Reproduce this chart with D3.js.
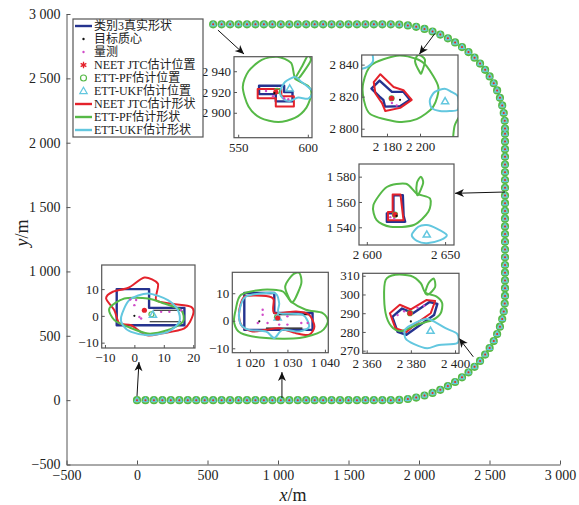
<!DOCTYPE html>
<html>
<head>
<meta charset="utf-8">
<script src="https://cdn.jsdelivr.net/npm/d3@7"></script>
<style>
  body { margin: 0; background: #fff; }
  svg text { font-family: "Liberation Serif", "Noto Sans CJK SC", serif; fill: #222; }
</style>
</head>
<body>
<div id="chart"></div>
<script>
// trajectory (every frame), main plot data in metres
const trackX = [0,60,120,180,240,300,360,420,480,540,600,660,720,780,840,900,960,1020,1080,1140,1200,1260,1320,1380,1440,1500,1560,1620,1680,1740,1800,
  1860,1921,1980,2039,2096,2151,2205,2256,2305,2351,2394,2433,2469,2501,2530,2554,2574,2590,2601,2608,2610,
  2610,2610,2610,2610,2610,2610,2610,2610,2610,2610,2610,2610,2610,2610,2610,2610,2610,2610,2610,2610,2610,
  2610,2608,2601,2590,2574,2554,2530,2501,2469,2433,2394,2351,2305,2256,2205,2151,2096,2039,1980,1921,1860,1800,
  1740,1680,1620,1560,1500,1440,1380,1320,1260,1200,1140,1080,1020,960,900,840,780,720,660,600,540];
const trackY = [0,0,0,0,0,0,0,0,0,0,0,0,0,0,0,0,0,0,0,0,0,0,0,0,0,0,0,0,0,0,0,
  2,9,20,36,56,80,109,141,177,216,259,305,354,405,459,514,571,630,689,750,810,
  870,930,990,1050,1110,1170,1230,1290,1350,1410,1470,1530,1590,1650,1710,1770,1830,1890,1950,2010,2070,
  2110,2170,2231,2290,2349,2406,2462,2515,2566,2615,2661,2704,2743,2779,2811,2840,2864,2884,2900,2911,2918,2920,
  2920,2920,2920,2920,2920,2920,2920,2920,2920,2920,2920,2920,2920,2920,2920,2920,2920,2920,2920,2920,2920];

const mainTicks = [-500,0,500,1000,1500,2000,2500,3000];

const legendLabels = ["类别3真实形状","目标质心","量测","NEET JTC估计位置","ETT-PF估计位置",
  "ETT-UKF估计位置","NEET JTC估计形状","ETT-PF估计形状","ETT-UKF估计形状"];

// arrows: [tailX, tailY, headX, headY] in main data coords
const arrows = [[574,2875,759,2689],[2113,2849,2002,2687],[2610,1617,2255,1607],
  [0,32,14,296],[1028,16,1028,218],[2385,337,2284,480]];

// ---- inset 1 (top, x~575) ----
const in1X = [547,603], in1Y = [2876,2954], in1XT = [550,600], in1YT = [2900,2920,2940];
const in1Blue = [[565,2926],[583,2926],[583,2920],[589,2920],[589,2911],[577,2911],[577,2918],[565,2918]];
const in1Red = [[564,2923],[581,2923],[581,2916],[590,2916],[590,2906],[577,2906],[577,2914],[564,2914]];
const in1Green = [[553.3,2924.8],[557.4,2940],[566.9,2951],[578,2954],[588,2948],[591,2933],[600,2926],[602.6,2918.5],[599,2905],[590.7,2895],[578.8,2891.2],[566,2895],[557.4,2906]];
const in1Stem = [[591,2933],[596,2945],[600,2955],[602,2950],[594,2934]];
const in1Cyan = [[580,2920],[583.6,2929.6],[590.7,2934.4],[595.5,2929.6],[600.2,2924.8],[603.8,2920],[600.2,2913.6],[593.1,2914.6],[587.1,2911.4],[582.4,2913.6]];
const in1Meas = [[570,2921],[575,2916],[583,2914],[586,2913]];
const in1Pts = {c:[576,2919], r:[577,2920], g:[578,2921], t:[587,2923]};

// ---- inset 2 (top right, x~2188) ----
const in2X = [2164.7,2223], in2Y = [2795,2846], in2XT = [2180,2200], in2YT = [2800,2820,2840];
const in2Blue = [[2170.6,2825],[2175.5,2830],[2183,2823],[2189.9,2823],[2193.9,2818],[2187.9,2814],[2178.8,2813.8],[2177.8,2818],[2175.5,2820]];
const in2Red = [[2172,2829],[2176,2834],[2184,2826],[2190,2824],[2195,2818],[2188,2813],[2179,2811],[2177,2816],[2173,2822]];
const in2Green = [[2165.6,2828.4],[2170.6,2839.8],[2185.9,2845.5],[2198,2843.5],[2204,2839],[2211.1,2826],[2208,2813.8],[2198,2806],[2185.9,2804.4],[2170,2809],[2166,2818]];
const in2Stem = [[2200,2835],[2197,2842],[2199,2846],[2203,2843],[2201,2835]];
const in2Cyan = [[2206,2818],[2209,2823],[2215,2825],[2219,2823],[2223,2820],[2223,2812],[2218,2811],[2212,2811],[2207,2813]];
const in2CyanEdge = [[2163,2837],[2168,2838.5],[2171.5,2842],[2171,2848]];
const in2GreenEdge = [[2224,2808],[2221,2802],[2220,2794]];
const in2Meas = [[2185.9,2814.5],[2183,2816]];
const in2Pts = {c:[2187.9,2818], r:[2182.8,2819], g:[2182.8,2819], t:[2215.2,2816.9]};

// ---- inset 3 (right, y~1560) ----
const in3X = [2595,2655.7], in3Y = [1526,1590], in3XT = [2600,2650], in3YT = [1540,1560,1580];
const in3Blue = [[2617,1565.3],[2623,1565.3],[2623.5,1549],[2624.5,1544.4],[2612.8,1544.4],[2612.8,1551],[2617,1551]];
const in3Red = [[2616.5,1566],[2621.5,1566],[2623,1550],[2623.5,1545.5],[2613.5,1545.5],[2613.5,1552],[2616.5,1552]];
const in3Green = [[2604.2,1557.5],[2612.8,1571.8],[2625,1574.4],[2631.9,1566.6],[2640.4,1562.7],[2639.3,1552.2],[2630,1541.8],[2615,1540.4],[2606.3,1545.7]];
const in3Stem = [[2631.9,1566.6],[2632,1575],[2634.5,1580],[2636,1575],[2633,1566]];
const in3Cyan = [[2628.7,1533.9],[2632.9,1540.4],[2638.3,1541.8],[2644.7,1539],[2651.1,1533.9],[2646.9,1529.9],[2638.3,1527.4],[2632,1529.2]];
const in3Meas = [[2615,1548],[2617.5,1547]];
const in3Pts = {c:[2619,1549], r:[2618,1550], g:[2618,1550], t:[2638.3,1533.9]};

// ---- inset 4 (start, x~0) ----
const in4X = [-11.1,20.6], in4Y = [-12,19], in4XT = [-10,0,10,20], in4YT = [-10,0,10];
const in4Blue = [[-6,10],[5,10],[5,3],[17,3],[17,-3.5],[-6,-3.5]];
const in4Red = [[-9.6,6.5],[-7.3,9],[-2,10.5],[3.4,14.3],[8,12],[7.4,5.9],[13,4.5],[19.3,3.4],[19.9,0.3],[17,-4.7],[9.1,-6.6],[4,-7.2],[-1.1,-3.5],[-5.1,-2.8],[-6.8,2.1]];
const in4Green = [[-8.5,2.8],[-3.4,6.5],[4.6,6.5],[10.2,4.6],[15.9,2.1],[16.5,-2.2],[11.4,-5.3],[4.6,-6.6],[-2.2,-4.1],[-6.8,-1.6]];
const in4Cyan = [[-4.5,-0.4],[-1.7,5.9],[4.6,8.4],[11.4,5.9],[14.8,2.1],[15.3,-2.2],[11.4,-6],[4.6,-7.2],[-1.1,-6],[-3.9,-3.5]];
const in4Black = [[[6.4,2.1],[15.9,2.1]],[[5.2,-2.2],[15.9,-2.2]]];
const in4Meas = [[-1.4,6.1],[0.6,5.9],[0,4],[1.7,-0.4],[9.1,1.5],[11.9,1.5],[15.9,2.1],[2.3,-1]];
const in4Pts = {c:[0,0], r:[3.4,2.1], g:[5.8,0.6], t:[6.3,0.3]};

// ---- inset 5 (x~1030) ----
const in5X = [1015.3,1040.9], in5Y = [-11.6,17.6], in5XT = [1020,1030,1040], in5YT = [-10,0,10];
const in5Blue = [[1018.5,10.1],[1026.5,10.1],[1026.5,2.8],[1036.7,2.8],[1036.7,-3.3],[1018.5,-3.3]];
const in5Red = [[1017.6,6.4],[1018.9,9.0],[1024.3,9.0],[1026.3,7.8],[1026.5,2.8],[1032.3,3.4],[1035.8,2.2],[1037.2,-2.1],[1035.8,-5.1],[1032.3,-4.5],[1027.8,-2.7],[1024.3,-3.3],[1020.7,-3.9],[1018.0,-2.1],[1017.1,1.6]];
const in5Green = [[1016.2,4.0],[1017.6,9.4],[1023.4,11.3],[1028.7,10.7],[1030.9,7.0],[1034.9,4.0],[1039.4,2.8],[1040.8,-0.2],[1039.0,-3.9],[1033.2,-6.3],[1024.3,-6.3],[1017.6,-4.5],[1015.8,-0.8]];
const in5Stem = [[1030.9,7.0],[1029.4,12.4],[1031.4,16.7],[1033.2,17.3],[1033.7,13.6],[1031.9,7.6]];
const in5Cyan = [[1017.1,2.8],[1018.9,8.8],[1026.5,10.1],[1027.8,6.4],[1027.8,2.8],[1034.0,2.2],[1035.8,-2.1],[1033.2,-3.9],[1028.7,-3.3],[1026.5,-6.3],[1024.3,-3.9],[1019.8,-3.3],[1017.6,-1.4]];
const in5Black = [[[1027.5,2.2],[1036,2.2]],[[1024.3,-2.7],[1034,-2.7]]];
const in5Meas = [[1023.4,4.0],[1023.4,2.2],[1024.7,-0.8],[1027.8,1.6],[1030.0,1.6],[1027.8,-1.4],[1030.0,-1.4],[1033.7,-0.8],[1035.4,-0.8],[1022.1,-0.8]];
const in5Pts = {c:[1022.5,-0.2], r:[1027.4,1.0], g:[1027.2,1.2], t:[1027.4,1.0]};

// ---- inset 6 (x~2380, y~290) ----
const in6X = [2358.2,2401.8], in6Y = [268.6,311.3], in6XT = [2360,2380,2400], in6YT = [270,280,290,300,310];
const in6Blue = [[2371.6,288],[2376,292.5],[2381,290],[2388.5,296],[2392,295],[2390.5,289],[2384.5,284],[2378,278.5],[2374,280]];
const in6Red = [[2370.5,290],[2375,294.5],[2380,292],[2387,297],[2391,296.5],[2389,290],[2383,285],[2378,280],[2373,282]];
const in6Green = [[2368.6,307.8],[2373,310.5],[2379.9,310],[2384.5,306],[2386.5,301],[2391.5,299],[2394.2,295.3],[2393.5,290],[2390,286.5],[2383,284],[2376,280.5],[2372,282],[2369,288],[2367.9,298]];
const in6Stem = [[2386.5,301],[2388,306],[2390.4,308.5],[2391,304],[2388,300]];
const in6Cyan = [[2377.3,281],[2379.9,283.5],[2387,287],[2390.4,285.6],[2395.7,282],[2401,279],[2401,274],[2392.7,273],[2387.4,271.3],[2381.5,273.5],[2377.6,276.5]];
const in6Meas = [[2374,289],[2377,291],[2383,293],[2386,294]];
const in6Pts = {c:[2380,285.6], r:[2379.6,290], g:[2379.6,290], t:[2388.9,280.4]};

const C = {blue: "#25338f", red: "#e4222b", green: "#56b947", cyan: "#63c7df", mag: "#d04cc8"};

const W = 579, H = 505;
const loc = d3.formatLocale({decimal: ".", thousands: " ", grouping: [3], currency: ["", ""], minus: "\u2212"});
const fmt = loc.format(",d");

const svg = d3.select("#chart").append("svg").attr("width", W).attr("height", H);

svg.append("defs").append("marker")
   .attr("id", "ah").attr("viewBox", "-10 -5 12 10")
   .attr("refX", 0).attr("refY", 0)
   .attr("markerWidth", 12).attr("markerHeight", 10)
   .attr("markerUnits", "userSpaceOnUse").attr("orient", "auto")
   .append("path").attr("d", "M0,0 L-9,-4 L-6.5,0 L-9,4 Z").attr("fill", "#111");

const xMain = d3.scaleLinear().domain([-500, 3000]).range([66.5, 560]);
const yMain = d3.scaleLinear().domain([-500, 3000]).range([464.5, 14]);

// axes
svg.append("g")
   .attr("transform", "translate(0," + yMain(-500) + ")")
   .call(d3.axisBottom(xMain).tickValues(mainTicks).tickFormat(fmt).tickSizeInner(-4).tickSizeOuter(0).tickPadding(6))
   .call(g => g.selectAll("text").style("font-size", "14px"))
   .call(g => g.selectAll("line,path").attr("stroke", "#555"));

svg.append("g")
   .attr("transform", "translate(" + xMain(-500) + ",0)")
   .call(d3.axisLeft(yMain).tickValues(mainTicks).tickFormat(fmt).tickSizeInner(-4).tickSizeOuter(0).tickPadding(6))
   .call(g => g.selectAll("text").style("font-size", "14px"))
   .call(g => g.selectAll("line,path").attr("stroke", "#555"));

// axis titles
const xt = svg.append("text").attr("x", 293).attr("y", 501).attr("text-anchor", "middle").style("font-size", "18px");
xt.append("tspan").style("font-style", "italic").text("x");
xt.append("tspan").text("/m");
const yt = svg.append("text").attr("transform", "translate(28,233) rotate(-90)").attr("text-anchor", "middle").style("font-size", "18px");
yt.append("tspan").style("font-style", "italic").text("y");
yt.append("tspan").text("/m");

// trajectory markers
const track = trackX.map((x, i) => [x, trackY[i]]);
const tr = svg.append("g");
tr.selectAll("circle.g").data(track).enter().append("circle")
  .attr("cx", d => xMain(d[0])).attr("cy", d => yMain(d[1])).attr("r", 3.3)
  .attr("fill", "#8fd08a").attr("stroke", C.green).attr("stroke-width", 1.6);
tr.selectAll("path.t").data(track).enter().append("path")
  .attr("d", d3.symbol(d3.symbolTriangle, 10)())
  .attr("transform", d => "translate(" + xMain(d[0]) + "," + yMain(d[1]) + ")")
  .attr("fill", "none").attr("stroke", C.cyan).attr("stroke-width", 1.1);
tr.selectAll("circle.r").data(track).enter().append("circle")
  .attr("cx", d => xMain(d[0])).attr("cy", d => yMain(d[1])).attr("r", 1)
  .attr("fill", C.red);

// arrows
svg.selectAll("line.arrow").data(arrows).enter().append("line")
   .attr("x1", d => xMain(d[0])).attr("y1", d => yMain(d[1]))
   .attr("x2", d => xMain(d[2])).attr("y2", d => yMain(d[3]))
   .attr("stroke", "#111").attr("stroke-width", 1).attr("marker-end", "url(#ah)");

// insets
function drawInset(id, box, xd, yd, xt, ytk, s) {
  const xs = d3.scaleLinear().domain(xd).range([box[0], box[2]]);
  const ys = d3.scaleLinear().domain(yd).range([box[3], box[1]]);
  const g = svg.append("g");
  g.append("rect").attr("x", box[0]).attr("y", box[1])
   .attr("width", box[2] - box[0]).attr("height", box[3] - box[1]).attr("fill", "#fff");
  g.append("clipPath").attr("id", "clip" + id).append("rect")
   .attr("x", box[0]).attr("y", box[1]).attr("width", box[2] - box[0]).attr("height", box[3] - box[1]);
  const inner = g.append("g").attr("clip-path", "url(#clip" + id + ")");
  const smooth = d3.line().x(d => xs(d[0])).y(d => ys(d[1])).curve(d3.curveCardinalClosed.tension(0.2));
  const poly = d3.line().x(d => xs(d[0])).y(d => ys(d[1])).curve(d3.curveLinearClosed);
  const open = d3.line().x(d => xs(d[0])).y(d => ys(d[1]));
  const openSmooth = d3.line().x(d => xs(d[0])).y(d => ys(d[1])).curve(d3.curveCardinal.tension(0.2));

  inner.append("path").attr("d", poly(s.blue)).attr("fill", "none").attr("stroke", C.blue)
       .attr("stroke-width", 2.4).attr("stroke-linejoin", "round");
  (s.black || []).forEach(l => inner.append("path").attr("d", open(l)).attr("fill", "none")
       .attr("stroke", "#111").attr("stroke-width", 1.2));
  inner.append("path").attr("d", s.redSmooth ? smooth(s.red) : poly(s.red)).attr("fill", "none")
       .attr("stroke", C.red).attr("stroke-width", 2).attr("stroke-linejoin", "round");
  inner.append("path").attr("d", smooth(s.green)).attr("fill", "none").attr("stroke", C.green).attr("stroke-width", 2);
  if (s.stem) inner.append("path").attr("d", smooth(s.stem)).attr("fill", "none").attr("stroke", C.green).attr("stroke-width", 2);
  if (s.greenEdge) inner.append("path").attr("d", openSmooth(s.greenEdge)).attr("fill", "none").attr("stroke", C.green).attr("stroke-width", 2);
  inner.append("path").attr("d", smooth(s.cyan)).attr("fill", "none").attr("stroke", C.cyan).attr("stroke-width", 2);
  if (s.cyanEdge) inner.append("path").attr("d", openSmooth(s.cyanEdge)).attr("fill", "none").attr("stroke", C.cyan).attr("stroke-width", 2);

  inner.selectAll("circle.m").data(s.meas).enter().append("circle")
       .attr("cx", d => xs(d[0])).attr("cy", d => ys(d[1])).attr("r", 1.2).attr("fill", C.mag);
  inner.append("circle").attr("cx", xs(s.pts.g[0])).attr("cy", ys(s.pts.g[1])).attr("r", 2.5)
       .attr("fill", "none").attr("stroke", C.green).attr("stroke-width", 1.2);
  inner.append("path").attr("d", d3.symbol(d3.symbolTriangle, 22)())
       .attr("transform", "translate(" + xs(s.pts.t[0]) + "," + ys(s.pts.t[1]) + ")")
       .attr("fill", "none").attr("stroke", C.cyan).attr("stroke-width", 1.5);
  inner.append("circle").attr("cx", xs(s.pts.r[0])).attr("cy", ys(s.pts.r[1])).attr("r", 2.6).attr("fill", C.red);
  inner.append("circle").attr("cx", xs(s.pts.c[0])).attr("cy", ys(s.pts.c[1])).attr("r", 1.1).attr("fill", "#111");

  g.append("g").attr("transform", "translate(0," + box[3] + ")")
   .call(d3.axisBottom(xs).tickValues(xt).tickFormat(fmt).tickSizeInner(-3).tickSizeOuter(0).tickPadding(5))
   .call(a => a.select(".domain").remove())
   .call(a => a.selectAll("text").style("font-size", "13px"))
   .call(a => a.selectAll("line").attr("stroke", "#555"));
  g.append("g").attr("transform", "translate(" + box[0] + ",0)")
   .call(d3.axisLeft(ys).tickValues(ytk).tickFormat(fmt).tickSizeInner(-3).tickSizeOuter(0).tickPadding(3))
   .call(a => a.select(".domain").remove())
   .call(a => a.selectAll("text").style("font-size", "13px"))
   .call(a => a.selectAll("line").attr("stroke", "#555"));
  g.append("rect").attr("x", box[0]).attr("y", box[1])
   .attr("width", box[2] - box[0]).attr("height", box[3] - box[1])
   .attr("fill", "none").attr("stroke", "#555").attr("stroke-width", 1.2);
}

drawInset(1, [234, 56.7, 312, 137.7], in1X, in1Y, in1XT, in1YT,
  {blue: in1Blue, red: in1Red, green: in1Green, stem: in1Stem, cyan: in1Cyan, meas: in1Meas, pts: in1Pts});
drawInset(2, [361.7, 55, 458, 136.7], in2X, in2Y, in2XT, in2YT,
  {blue: in2Blue, red: in2Red, green: in2Green, stem: in2Stem, cyan: in2Cyan, cyanEdge: in2CyanEdge,
   greenEdge: in2GreenEdge, meas: in2Meas, pts: in2Pts});
drawInset(3, [359, 164, 454, 245], in3X, in3Y, in3XT, in3YT,
  {blue: in3Blue, red: in3Red, green: in3Green, stem: in3Stem, cyan: in3Cyan, meas: in3Meas, pts: in3Pts});
drawInset(4, [101.7, 265, 195, 348], in4X, in4Y, in4XT, in4YT,
  {blue: in4Blue, red: in4Red, redSmooth: true, green: in4Green, cyan: in4Cyan, black: in4Black, meas: in4Meas, pts: in4Pts});
drawInset(5, [232.3, 272.3, 328.3, 352.7], in5X, in5Y, in5XT, in5YT,
  {blue: in5Blue, red: in5Red, redSmooth: true, green: in5Green, stem: in5Stem, cyan: in5Cyan, black: in5Black, meas: in5Meas, pts: in5Pts});
drawInset(6, [362.7, 273.3, 459, 353.3], in6X, in6Y, in6XT, in6YT,
  {blue: in6Blue, red: in6Red, green: in6Green, stem: in6Stem, cyan: in6Cyan, meas: in6Meas, pts: in6Pts});

// legend
const lg = svg.append("g");
lg.append("rect").attr("x", 73).attr("y", 19).attr("width", 130).attr("height", 118)
  .attr("fill", "#fff").attr("stroke", "#555").attr("stroke-width", 1.2);
const rowY = i => 26 + i * 13;
const lineRows = {0: C.blue, 6: C.red, 7: C.green, 8: C.cyan};
legendLabels.forEach((t, i) => {
  const y = rowY(i);
  if (lineRows[i]) {
    lg.append("line").attr("x1", 75).attr("x2", 92).attr("y1", y).attr("y2", y)
      .attr("stroke", lineRows[i]).attr("stroke-width", 2.4);
  } else if (i === 1) {
    lg.append("circle").attr("cx", 83.5).attr("cy", y).attr("r", 1.2).attr("fill", "#111");
  } else if (i === 2) {
    lg.append("circle").attr("cx", 83.5).attr("cy", y).attr("r", 1.2).attr("fill", C.mag);
  } else if (i === 3) {
    lg.append("path").attr("d", d3.symbol(d3.symbolAsterisk, 30)()).attr("transform", "translate(83.5," + y + ")")
      .attr("stroke", C.red).attr("stroke-width", 1.3).attr("fill", "none");
    lg.append("circle").attr("cx", 83.5).attr("cy", y).attr("r", 1.6).attr("fill", C.red);
  } else if (i === 4) {
    lg.append("circle").attr("cx", 83.5).attr("cy", y).attr("r", 3).attr("fill", "none")
      .attr("stroke", C.green).attr("stroke-width", 1.2);
  } else if (i === 5) {
    lg.append("path").attr("d", d3.symbol(d3.symbolTriangle, 24)()).attr("transform", "translate(83.5," + (y + 0.5) + ")")
      .attr("fill", "none").attr("stroke", C.cyan).attr("stroke-width", 1.2);
  }
  lg.append("text").attr("x", 94).attr("y", y).attr("dy", "0.35em").style("font-size", "12px").text(t);
});
</script>
</body>
</html>
